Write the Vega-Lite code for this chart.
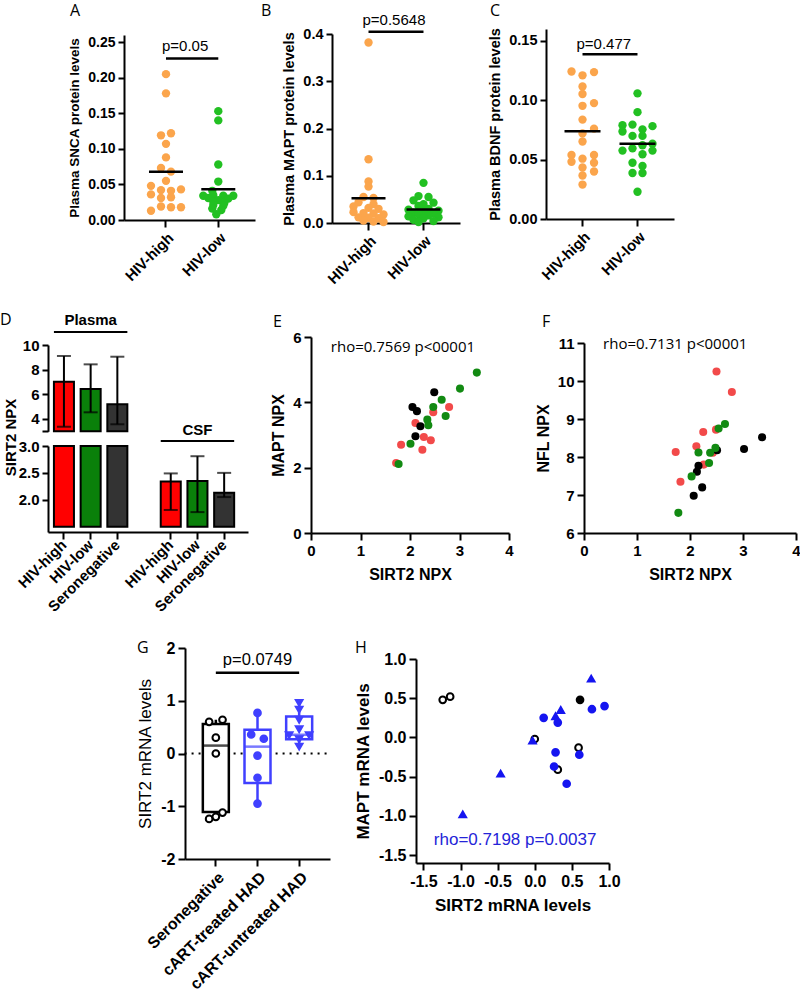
{
  "$schema": "https://vega.github.io/schema/vega-lite/v6.json",
  "background": "white",
  "padding": 0,
  "columns": 3,
  "spacing": 0,
  "bounds": "flush",
  "align": "each",
  "resolve": {"scale": {"color": "independent", "fill": "independent", "stroke": "independent", "shape": "independent", "xOffset": "independent"}},
  "config": {
    "view": {"stroke": null},
    "axis": {"grid": false, "domainColor": "#000", "domainWidth": 2, "tickColor": "#000", "tickWidth": 2, "tickSize": 6, "labelColor": "#000", "titleColor": "#000", "labelFont": "Liberation Sans", "titleFont": "Liberation Sans", "labelFontWeight": "bold", "titleFontWeight": "bold", "labelFlush": false, "labelOverlap": false, "labelPadding": 3, "titlePadding": 6},
    "title": {"font": "Open Sans", "fontWeight": "normal", "fontSize": 16, "anchor": "start", "frame": "group", "offset": 0, "color": "#000"},
    "text": {"font": "Liberation Sans", "color": "#000"}
  },
  "datasets": {
    "A": [
      {"g":"HIV-high","v":0.205,"o":0},{"g":"HIV-high","v":0.178,"o":0},{"g":"HIV-high","v":0.119,"o":-0.5},{"g":"HIV-high","v":0.122,"o":0.5},
      {"g":"HIV-high","v":0.107,"o":0},{"g":"HIV-high","v":0.088,"o":0},{"g":"HIV-high","v":0.073,"o":-0.5},{"g":"HIV-high","v":0.068,"o":0.5},
      {"g":"HIV-high","v":0.055,"o":0},{"g":"HIV-high","v":0.048,"o":-1.5},{"g":"HIV-high","v":0.036,"o":-1.5},{"g":"HIV-high","v":0.042,"o":-0.5},
      {"g":"HIV-high","v":0.041,"o":0.5},{"g":"HIV-high","v":0.043,"o":1.5},{"g":"HIV-high","v":0.031,"o":-0.5},{"g":"HIV-high","v":0.032,"o":0.5},
      {"g":"HIV-high","v":0.013,"o":-1.5},{"g":"HIV-high","v":0.019,"o":-0.5},{"g":"HIV-high","v":0.018,"o":0.5},{"g":"HIV-high","v":0.018,"o":1.5},
      {"g":"HIV-low","v":0.153,"o":0},{"g":"HIV-low","v":0.140,"o":0},{"g":"HIV-low","v":0.078,"o":0},{"g":"HIV-low","v":0.054,"o":0},
      {"g":"HIV-low","v":0.041,"o":-0.6},{"g":"HIV-low","v":0.034,"o":-1.5},{"g":"HIV-low","v":0.035,"o":-0.5},{"g":"HIV-low","v":0.034,"o":0.5},
      {"g":"HIV-low","v":0.034,"o":1.5},{"g":"HIV-low","v":0.031,"o":-1.0},{"g":"HIV-low","v":0.030,"o":1.0},{"g":"HIV-low","v":0.028,"o":0},
      {"g":"HIV-low","v":0.026,"o":-0.5},{"g":"HIV-low","v":0.024,"o":0.6},{"g":"HIV-low","v":0.021,"o":-0.5},{"g":"HIV-low","v":0.020,"o":0.5},
      {"g":"HIV-low","v":0.016,"o":-0.6},{"g":"HIV-low","v":0.014,"o":0.3},{"g":"HIV-low","v":0.008,"o":-0.2}
    ],
    "B": [
      {"g":"HIV-high","v":0.382,"o":0},{"g":"HIV-high","v":0.135,"o":0},{"g":"HIV-high","v":0.088,"o":0},{"g":"HIV-high","v":0.077,"o":0},
      {"g":"HIV-high","v":0.055,"o":-0.5},{"g":"HIV-high","v":0.053,"o":0.5},{"g":"HIV-high","v":0.044,"o":-1.0},{"g":"HIV-high","v":0.040,"o":0.5},
      {"g":"HIV-high","v":0.035,"o":-1.5},{"g":"HIV-high","v":0.032,"o":0},{"g":"HIV-high","v":0.030,"o":1.0},{"g":"HIV-high","v":0.023,"o":-1.5},
      {"g":"HIV-high","v":0.021,"o":-0.5},{"g":"HIV-high","v":0.020,"o":0.5},{"g":"HIV-high","v":0.018,"o":1.5},{"g":"HIV-high","v":0.012,"o":-1.0},
      {"g":"HIV-high","v":0.011,"o":0},{"g":"HIV-high","v":0.010,"o":1.0},{"g":"HIV-high","v":0.005,"o":-0.5},{"g":"HIV-high","v":0.003,"o":0.5},
      {"g":"HIV-high","v":0.002,"o":1.5},
      {"g":"HIV-low","v":0.085,"o":0},{"g":"HIV-low","v":0.057,"o":-0.5},{"g":"HIV-low","v":0.055,"o":0.5},{"g":"HIV-low","v":0.048,"o":-1.0},
      {"g":"HIV-low","v":0.043,"o":1.0},{"g":"HIV-low","v":0.040,"o":0},{"g":"HIV-low","v":0.036,"o":-0.5},{"g":"HIV-low","v":0.030,"o":0.5},
      {"g":"HIV-low","v":0.028,"o":-1.5},{"g":"HIV-low","v":0.026,"o":1.5},{"g":"HIV-low","v":0.024,"o":0},{"g":"HIV-low","v":0.022,"o":-1.0},
      {"g":"HIV-low","v":0.020,"o":1.0},{"g":"HIV-low","v":0.019,"o":-0.5},{"g":"HIV-low","v":0.016,"o":0.5},{"g":"HIV-low","v":0.014,"o":-1.5},
      {"g":"HIV-low","v":0.012,"o":1.5},{"g":"HIV-low","v":0.010,"o":0},{"g":"HIV-low","v":0.007,"o":-1.0},{"g":"HIV-low","v":0.004,"o":1.0},
      {"g":"HIV-low","v":0.002,"o":-0.5}
    ],
    "C": [
      {"g":"HIV-high","v":0.1242,"o":-1.1},{"g":"HIV-high","v":0.121,"o":0},{"g":"HIV-high","v":0.1237,"o":1.15},{"g":"HIV-high","v":0.1116,"o":0},
      {"g":"HIV-high","v":0.1053,"o":0},{"g":"HIV-high","v":0.0953,"o":0},{"g":"HIV-high","v":0.0976,"o":1.15},{"g":"HIV-high","v":0.0837,"o":0},
      {"g":"HIV-high","v":0.0761,"o":1.15},{"g":"HIV-high","v":0.0721,"o":0},{"g":"HIV-high","v":0.0653,"o":0},{"g":"HIV-high","v":0.0539,"o":-1.1},
      {"g":"HIV-high","v":0.0539,"o":1.15},{"g":"HIV-high","v":0.0482,"o":-1.1},{"g":"HIV-high","v":0.0508,"o":0},{"g":"HIV-high","v":0.0474,"o":1.15},
      {"g":"HIV-high","v":0.0434,"o":0},{"g":"HIV-high","v":0.040,"o":1.15},{"g":"HIV-high","v":0.0366,"o":0},{"g":"HIV-high","v":0.029,"o":0},
      {"g":"HIV-low","v":0.1058,"o":0},{"g":"HIV-low","v":0.090,"o":0},{"g":"HIV-low","v":0.0789,"o":-1.5},{"g":"HIV-low","v":0.0795,"o":-0.5},
      {"g":"HIV-low","v":0.0782,"o":1.5},{"g":"HIV-low","v":0.0737,"o":-1.5},{"g":"HIV-low","v":0.0755,"o":0.5},{"g":"HIV-low","v":0.070,"o":-0.5},
      {"g":"HIV-low","v":0.070,"o":0.5},{"g":"HIV-low","v":0.0634,"o":1.5},{"g":"HIV-low","v":0.0621,"o":0.5},{"g":"HIV-low","v":0.0576,"o":-1.5},
      {"g":"HIV-low","v":0.0595,"o":-0.5},{"g":"HIV-low","v":0.0576,"o":1.5},{"g":"HIV-low","v":0.0545,"o":0.5},{"g":"HIV-low","v":0.0474,"o":-0.5},
      {"g":"HIV-low","v":0.0447,"o":0.5},{"g":"HIV-low","v":0.0387,"o":-0.5},{"g":"HIV-low","v":0.0387,"o":0.5},{"g":"HIV-low","v":0.0229,"o":0}
    ],
    "D": [
      {"tissue":"Plasma","slot":"P:HIV-high","g":"HIV-high","v":7.02,"lo":3.37,"hi":9.11},
      {"tissue":"Plasma","slot":"P:HIV-low","g":"HIV-low","v":6.43,"lo":4.54,"hi":8.43},
      {"tissue":"Plasma","slot":"P:Seronegative","g":"Seronegative","v":5.19,"lo":3.57,"hi":9.05},
      {"tissue":"CSF","slot":"C:HIV-high","g":"HIV-high","v":2.34,"lo":1.81,"hi":2.49},
      {"tissue":"CSF","slot":"C:HIV-low","g":"HIV-low","v":2.35,"lo":1.77,"hi":2.81},
      {"tissue":"CSF","slot":"C:Seronegative","g":"Seronegative","v":2.13,"lo":2.05,"hi":2.50}
    ],
    "E": [
      {"g":"HIV-high","sirt2":1.72,"npx":2.14},{"g":"HIV-high","sirt2":1.82,"npx":2.70},{"g":"HIV-high","sirt2":2.11,"npx":3.37},{"g":"HIV-high","sirt2":2.28,"npx":2.94},
      {"g":"HIV-high","sirt2":2.25,"npx":2.55},{"g":"HIV-high","sirt2":2.42,"npx":2.84},{"g":"HIV-high","sirt2":2.47,"npx":3.70},{"g":"HIV-high","sirt2":2.79,"npx":3.86},
      {"g":"Seronegative","sirt2":2.05,"npx":3.86},{"g":"Seronegative","sirt2":2.14,"npx":3.73},{"g":"Seronegative","sirt2":2.49,"npx":4.31},{"g":"Seronegative","sirt2":2.21,"npx":3.27},
      {"g":"Seronegative","sirt2":2.11,"npx":2.96},
      {"g":"HIV-low","sirt2":1.77,"npx":2.11},{"g":"HIV-low","sirt2":2.01,"npx":2.73},{"g":"HIV-low","sirt2":2.35,"npx":3.47},{"g":"HIV-low","sirt2":2.37,"npx":3.30},
      {"g":"HIV-low","sirt2":2.47,"npx":3.86},{"g":"HIV-low","sirt2":2.72,"npx":3.58},{"g":"HIV-low","sirt2":2.64,"npx":4.08},{"g":"HIV-low","sirt2":3.01,"npx":4.42},
      {"g":"HIV-low","sirt2":3.35,"npx":4.91}
    ],
    "F": [
      {"g":"HIV-high","sirt2":1.73,"npx":8.13},{"g":"HIV-high","sirt2":1.82,"npx":7.35},{"g":"HIV-high","sirt2":2.12,"npx":8.28},{"g":"HIV-high","sirt2":2.25,"npx":8.66},
      {"g":"HIV-high","sirt2":2.50,"npx":10.25},{"g":"HIV-high","sirt2":2.79,"npx":9.71},{"g":"HIV-high","sirt2":2.49,"npx":8.72},{"g":"HIV-high","sirt2":2.26,"npx":7.80},
      {"g":"HIV-high","sirt2":2.43,"npx":8.11},
      {"g":"Seronegative","sirt2":2.07,"npx":6.98},{"g":"Seronegative","sirt2":2.23,"npx":7.20},{"g":"Seronegative","sirt2":2.13,"npx":7.61},{"g":"Seronegative","sirt2":2.16,"npx":7.77},
      {"g":"Seronegative","sirt2":2.51,"npx":8.18},{"g":"Seronegative","sirt2":3.02,"npx":8.21},{"g":"Seronegative","sirt2":3.36,"npx":8.52},
      {"g":"HIV-low","sirt2":1.78,"npx":6.53},{"g":"HIV-low","sirt2":2.03,"npx":7.49},{"g":"HIV-low","sirt2":2.16,"npx":8.12},{"g":"HIV-low","sirt2":2.36,"npx":7.84},
      {"g":"HIV-low","sirt2":2.38,"npx":8.11},{"g":"HIV-low","sirt2":2.48,"npx":8.24},{"g":"HIV-low","sirt2":2.54,"npx":8.75},{"g":"HIV-low","sirt2":2.66,"npx":8.87}
    ],
    "Gbox": [
      {"g":"Seronegative","lo":-1.24,"q1":-1.11,"med":0.15,"q3":0.56,"hi":0.64},
      {"g":"cART-treated HAD","lo":-0.96,"q1":-0.56,"med":0.13,"q3":0.45,"hi":0.77},
      {"g":"cART-untreated HAD","lo":0.11,"q1":0.27,"med":0.355,"q3":0.70,"hi":0.975}
    ],
    "Gpts": [
      {"g":"Seronegative","v":0.60,"o":-0.67},{"g":"Seronegative","v":0.64,"o":0.67},{"g":"Seronegative","v":0.30,"o":0},{"g":"Seronegative","v":0.00,"o":0},
      {"g":"Seronegative","v":-1.24,"o":-0.67},{"g":"Seronegative","v":-1.20,"o":0},{"g":"Seronegative","v":-1.12,"o":0.67},
      {"g":"cART-treated HAD","v":0.77,"o":0},{"g":"cART-treated HAD","v":0.36,"o":-0.63},{"g":"cART-treated HAD","v":0.28,"o":0.63},
      {"g":"cART-treated HAD","v":-0.04,"o":0},{"g":"cART-treated HAD","v":-0.46,"o":0},{"g":"cART-treated HAD","v":-0.95,"o":0},
      {"g":"cART-untreated HAD","v":0.96,"o":0},{"g":"cART-untreated HAD","v":0.83,"o":0},{"g":"cART-untreated HAD","v":0.64,"o":0},
      {"g":"cART-untreated HAD","v":0.46,"o":0},{"g":"cART-untreated HAD","v":0.35,"o":-1},{"g":"cART-untreated HAD","v":0.35,"o":1},
      {"g":"cART-untreated HAD","v":0.27,"o":0},{"g":"cART-untreated HAD","v":0.13,"o":0}
    ],
    "H": [
      {"t":"Seronegative","sirt2":-1.24,"mapt":0.48},{"t":"Seronegative","sirt2":-1.14,"mapt":0.52},{"t":"Seronegative","sirt2":0.00,"mapt":-0.02},
      {"t":"Seronegative","sirt2":0.31,"mapt":-0.41},{"t":"Seronegative","sirt2":0.59,"mapt":-0.13},
      {"t":"Seronegative (filled)","sirt2":0.61,"mapt":0.48},
      {"t":"cART-treated HAD","sirt2":0.12,"mapt":0.25},{"t":"cART-treated HAD","sirt2":0.31,"mapt":0.19},{"t":"cART-treated HAD","sirt2":0.28,"mapt":-0.19},
      {"t":"cART-treated HAD","sirt2":0.26,"mapt":-0.37},{"t":"cART-treated HAD","sirt2":0.43,"mapt":-0.59},{"t":"cART-treated HAD","sirt2":0.60,"mapt":-0.22},
      {"t":"cART-treated HAD","sirt2":0.77,"mapt":0.36},{"t":"cART-treated HAD","sirt2":0.94,"mapt":0.40},
      {"t":"cART-untreated HAD","sirt2":-0.97,"mapt":-0.98},{"t":"cART-untreated HAD","sirt2":-0.46,"mapt":-0.46},{"t":"cART-untreated HAD","sirt2":-0.03,"mapt":-0.04},
      {"t":"cART-untreated HAD","sirt2":0.28,"mapt":0.27},{"t":"cART-untreated HAD","sirt2":0.35,"mapt":0.35},{"t":"cART-untreated HAD","sirt2":0.76,"mapt":0.75}
    ]
  },
  "concat": [
    {
      "width": 260, "height": 310,
      "title": {"text": "A", "dx": 70, "dy": 23},
      "layer": [
        {"data": {"name": "A"}, "mark": {"type": "circle", "size": 70, "opacity": 1},
         "encoding": {
           "x": {"field": "g", "type": "nominal", "scale": {"domain": ["HIV-high", "HIV-low"], "range": [124, 255], "paddingInner": 0, "paddingOuter": 0.2524, "align": 0.6},
                 "axis": {"orient": "bottom", "offset": -90, "title": null, "labelAngle": -45, "labelFontSize": 15, "tickSize": 7}},
           "xOffset": {"field": "o", "type": "quantitative", "scale": {"domain": [-3, 3], "range": [-3.85, 56.15]}},
           "y": {"field": "v", "type": "quantitative", "scale": {"domain": [0, 0.25], "range": [220, 35]},
                 "axis": {"orient": "left", "offset": -124, "values": [0, 0.05, 0.1, 0.15, 0.2, 0.25], "format": ".2f", "labelFontSize": 14, "title": "Plasma SNCA protein levels", "titleFontSize": 13.5}},
           "color": {"field": "g", "type": "nominal", "scale": {"domain": ["HIV-high", "HIV-low"], "range": ["#FBA54C", "#22C022"]}, "legend": null}
         }},
        {"data": {"name": "A"}, "mark": {"type": "tick", "orient": "horizontal", "size": 34, "thickness": 2.5, "color": "#000"},
         "encoding": {"x": {"field": "g", "type": "nominal"}, "y": {"aggregate": "mean", "field": "v", "type": "quantitative"}}},
        {"data": {"values": [{"from": "HIV-high", "to": "HIV-low", "p": "p=0.05"}]}, "mark": {"type": "rule", "strokeWidth": 2.5, "color": "#000"},
         "encoding": {"x": {"field": "from", "type": "nominal"}, "x2": {"field": "to"}, "y": {"datum": 0.227}}},
        {"data": {"values": [{"from": "HIV-high", "to": "HIV-low", "p": "p=0.05"}]}, "mark": {"type": "text", "align": "left", "baseline": "middle", "dx": -4, "fontSize": 15},
         "encoding": {"x": {"field": "from", "type": "nominal"}, "y": {"datum": 0.244}, "text": {"field": "p"}}}
      ]
    },
    {
      "width": 260, "height": 310,
      "title": {"text": "B", "dx": 1, "dy": 23},
      "layer": [
        {"data": {"name": "B"}, "mark": {"type": "circle", "size": 70, "opacity": 1},
         "encoding": {
           "x": {"field": "g", "type": "nominal", "scale": {"domain": ["HIV-high", "HIV-low"], "range": [72, 200], "paddingInner": 0, "paddingOuter": 0.164},
                 "axis": {"orient": "bottom", "offset": -87, "title": null, "labelAngle": -45, "labelFontSize": 15, "tickSize": 7}},
           "xOffset": {"field": "o", "type": "quantitative", "scale": {"domain": [-3, 3], "range": [-2.5, 57.5]}},
           "y": {"field": "v", "type": "quantitative", "scale": {"domain": [0, 0.4], "range": [223, 34]},
                 "axis": {"orient": "left", "offset": -72, "values": [0, 0.1, 0.2, 0.3, 0.4], "format": ".1f", "labelFontSize": 14.5, "title": "Plasma MAPT protein levels", "titleFontSize": 14.5}},
           "color": {"field": "g", "type": "nominal", "scale": {"domain": ["HIV-high", "HIV-low"], "range": ["#FBA54C", "#22C022"]}, "legend": null}
         }},
        {"data": {"name": "B"}, "mark": {"type": "tick", "orient": "horizontal", "size": 34, "thickness": 2.5, "color": "#000"},
         "encoding": {"x": {"field": "g", "type": "nominal"}, "y": {"aggregate": "mean", "field": "v", "type": "quantitative"}}},
        {"data": {"values": [{"from": "HIV-high", "to": "HIV-low", "p": "p=0.5648"}]}, "mark": {"type": "rule", "strokeWidth": 2.5, "color": "#000"},
         "encoding": {"x": {"field": "from", "type": "nominal"}, "x2": {"field": "to"}, "y": {"datum": 0.405}}},
        {"data": {"values": [{"from": "HIV-high", "to": "HIV-low", "p": "p=0.5648"}]}, "mark": {"type": "text", "align": "left", "baseline": "middle", "dx": -6, "fontSize": 15},
         "encoding": {"x": {"field": "from", "type": "nominal"}, "y": {"datum": 0.43}, "text": {"field": "p"}}}
      ]
    },
    {
      "width": 280, "height": 310,
      "title": {"text": "C", "dx": -30, "dy": 23},
      "layer": [
        {"data": {"name": "C"}, "mark": {"type": "circle", "size": 70, "opacity": 1},
         "encoding": {
           "x": {"field": "g", "type": "nominal", "scale": {"domain": ["HIV-high", "HIV-low"], "range": [26, 154], "paddingInner": 0, "paddingOuter": 0.164},
                 "axis": {"orient": "bottom", "offset": -91, "title": null, "labelAngle": -45, "labelFontSize": 15, "tickSize": 7}},
           "xOffset": {"field": "o", "type": "quantitative", "scale": {"domain": [-3, 3], "range": [-2.5, 57.5]}},
           "y": {"field": "v", "type": "quantitative", "scale": {"domain": [0, 0.15], "range": [219, 29]},
                 "axis": {"orient": "left", "offset": -26, "values": [0, 0.05, 0.1, 0.15], "format": ".2f", "labelFontSize": 14.5, "title": "Plasma BDNF protein levels", "titleFontSize": 14.5}},
           "color": {"field": "g", "type": "nominal", "scale": {"domain": ["HIV-high", "HIV-low"], "range": ["#FBA54C", "#22C022"]}, "legend": null}
         }},
        {"data": {"name": "C"}, "mark": {"type": "tick", "orient": "horizontal", "size": 36, "thickness": 2.5, "color": "#000"},
         "encoding": {"x": {"field": "g", "type": "nominal"}, "y": {"aggregate": "mean", "field": "v", "type": "quantitative"}}},
        {"data": {"values": [{"from": "HIV-high", "to": "HIV-low", "p": "p=0.477"}]}, "mark": {"type": "rule", "strokeWidth": 2.5, "color": "#000"},
         "encoding": {"x": {"field": "from", "type": "nominal"}, "x2": {"field": "to"}, "y": {"datum": 0.1387}}},
        {"data": {"values": [{"from": "HIV-high", "to": "HIV-low", "p": "p=0.477"}]}, "mark": {"type": "text", "align": "left", "baseline": "middle", "dx": -6, "fontSize": 15},
         "encoding": {"x": {"field": "from", "type": "nominal"}, "y": {"datum": 0.1474}, "text": {"field": "p"}}}
      ]
    },
    {
      "width": 260, "height": 330,
      "title": {"text": "D", "dx": 0, "dy": 22},
      "resolve": {"scale": {"y": "independent"}, "axis": {"y": "independent"}},
      "layer": [
        {
          "layer": [
            {"data": {"name": "D"}, "transform": [{"filter": "datum.tissue === 'Plasma'"}],
             "mark": {"type": "bar", "stroke": "#000", "strokeWidth": 2},
             "encoding": {
               "x": {"field": "slot", "type": "nominal", "scale": {"domain": ["P:HIV-high", "P:HIV-low", "P:Seronegative", "gap", "C:HIV-high", "C:HIV-low", "C:Seronegative"], "range": [48, 248], "paddingInner": 0.25, "paddingOuter": 0.37, "align": 0.3}},
               "y": {"field": "v", "type": "quantitative", "scale": {"domain": [3, 10], "range": [121.3, 35]},
                     "axis": {"orient": "left", "offset": -48, "values": [3, 4, 6, 8, 10], "format": "d", "labelExpr": "datum.value == 3 ? '' : datum.label", "labelFontSize": 15, "title": "SIRT2 NPX", "titleFontSize": 15, "titleX": -38, "titleY": 127, "titleAngle": -90, "titleBaseline": "middle", "titleAlign": "center"}},
               "y2": {"datum": 3},
               "color": {"field": "g", "type": "nominal", "scale": {"domain": ["HIV-high", "HIV-low", "Seronegative"], "range": ["#FF0000", "#0A800A", "#333333"]}, "legend": null}
             }},
            {"data": {"name": "D"}, "transform": [{"filter": "datum.tissue === 'Plasma'"}],
             "mark": {"type": "rule", "strokeWidth": 2, "color": "#000"},
             "encoding": {"x": {"field": "slot", "type": "nominal"}, "y": {"field": "lo", "type": "quantitative"}, "y2": {"field": "hi"}}},
            {"data": {"name": "D"}, "transform": [{"filter": "datum.tissue === 'Plasma'"}],
             "mark": {"type": "tick", "orient": "horizontal", "size": 14, "thickness": 2, "color": "#000"},
             "encoding": {"x": {"field": "slot", "type": "nominal"}, "y": {"field": "lo", "type": "quantitative"}}},
            {"data": {"name": "D"}, "transform": [{"filter": "datum.tissue === 'Plasma'"}],
             "mark": {"type": "tick", "orient": "horizontal", "size": 14, "thickness": 2, "color": "#000"},
             "encoding": {"x": {"field": "slot", "type": "nominal"}, "y": {"field": "hi", "type": "quantitative"}}},
            {"data": {"values": [{"a": "P:HIV-high", "b": "P:Seronegative", "m": "P:HIV-low", "t": "Plasma"}]},
             "mark": {"type": "rule", "strokeWidth": 2, "color": "#000"},
             "encoding": {"x": {"field": "a", "type": "nominal", "bandPosition": 0}, "x2": {"field": "b", "bandPosition": 1}, "y": {"datum": 11.05}}},
            {"data": {"values": [{"a": "P:HIV-high", "b": "P:Seronegative", "m": "P:HIV-low", "t": "Plasma"}]},
             "mark": {"type": "text", "baseline": "middle", "fontSize": 15, "fontWeight": "bold"},
             "encoding": {"x": {"field": "m", "type": "nominal"}, "y": {"datum": 12.0}, "text": {"field": "t"}}},
            {"data": {"values": [{"a": "C:HIV-high", "b": "C:Seronegative", "m": "C:HIV-low", "t": "CSF"}]},
             "mark": {"type": "rule", "strokeWidth": 2, "color": "#000"},
             "encoding": {"x": {"field": "a", "type": "nominal", "bandPosition": 0}, "x2": {"field": "b", "bandPosition": 1}, "y": {"datum": 2.21}}},
            {"data": {"values": [{"a": "C:HIV-high", "b": "C:Seronegative", "m": "C:HIV-low", "t": "CSF"}]},
             "mark": {"type": "text", "baseline": "middle", "fontSize": 15, "fontWeight": "bold"},
             "encoding": {"x": {"field": "m", "type": "nominal"}, "y": {"datum": 3.11}, "text": {"field": "t"}}}
          ]
        },
        {
          "layer": [
            {"data": {"name": "D"},
             "mark": {"type": "bar", "stroke": "#000", "strokeWidth": 2},
             "encoding": {
               "x": {"field": "slot", "type": "nominal",
                     "axis": {"orient": "bottom", "offset": -108, "title": null, "labelAngle": -45, "labelFontSize": 15, "tickSize": 7,
                              "labelExpr": "datum.value === 'gap' ? '' : split(datum.value, ':')[1]",
                              "tickOpacity": {"condition": {"test": "datum.value === 'gap'", "value": 0}, "value": 1}}},
               "y": {"field": "v", "type": "quantitative", "scale": {"domain": [1.5, 3], "range": [222, 136], "clamp": true},
                     "axis": {"orient": "left", "offset": -48, "values": [2, 2.5, 3], "format": ".1f", "labelFontSize": 15, "title": null}},
               "y2": {"datum": 1.5},
               "color": {"field": "g", "type": "nominal", "legend": null}
             }},
            {"data": {"name": "D"}, "transform": [{"filter": "datum.tissue === 'CSF'"}],
             "mark": {"type": "rule", "strokeWidth": 2, "color": "#000"},
             "encoding": {"x": {"field": "slot", "type": "nominal"}, "y": {"field": "lo", "type": "quantitative"}, "y2": {"field": "hi"}}},
            {"data": {"name": "D"}, "transform": [{"filter": "datum.tissue === 'CSF'"}],
             "mark": {"type": "tick", "orient": "horizontal", "size": 14, "thickness": 2, "color": "#000"},
             "encoding": {"x": {"field": "slot", "type": "nominal"}, "y": {"field": "lo", "type": "quantitative"}}},
            {"data": {"name": "D"}, "transform": [{"filter": "datum.tissue === 'CSF'"}],
             "mark": {"type": "tick", "orient": "horizontal", "size": 14, "thickness": 2, "color": "#000"},
             "encoding": {"x": {"field": "slot", "type": "nominal"}, "y": {"field": "hi", "type": "quantitative"}}}
          ]
        }
      ]
    },
    {
      "width": 260, "height": 330,
      "title": {"text": "E", "dx": 13, "dy": 24},
      "layer": [
        {"data": {"name": "E"}, "mark": {"type": "circle", "size": 65, "opacity": 1},
         "encoding": {
           "x": {"field": "sirt2", "type": "quantitative", "scale": {"domain": [0, 4], "range": [51, 249]},
                 "axis": {"orient": "bottom", "offset": -107, "values": [0, 1, 2, 3, 4], "format": "d", "title": "SIRT2 NPX", "titleFontSize": 16, "labelFontSize": 15, "tickSize": 7, "titlePadding": 8}},
           "y": {"field": "npx", "type": "quantitative", "scale": {"domain": [0, 6], "range": [223, 27]},
                 "axis": {"orient": "left", "offset": -51, "values": [0, 2, 4, 6], "format": "d", "title": "MAPT NPX", "titleFontSize": 16, "labelFontSize": 15, "tickSize": 7}},
           "color": {"field": "g", "type": "nominal", "scale": {"domain": ["HIV-high", "HIV-low", "Seronegative"], "range": ["#F24A4A", "#128A12", "#000000"]}, "legend": null}
         }},
        {"data": {"values": [{"t": "rho=0.7569 p<00001"}]}, "mark": {"type": "text", "align": "left", "baseline": "middle", "font": "Open Sans", "fontSize": 15},
         "encoding": {"x": {"datum": 0.4}, "y": {"datum": 5.69}, "text": {"field": "t"}}}
      ]
    },
    {
      "width": 280, "height": 330,
      "title": {"text": "F", "dx": 22, "dy": 24},
      "layer": [
        {"data": {"name": "F"}, "mark": {"type": "circle", "size": 65, "opacity": 1},
         "encoding": {
           "x": {"field": "sirt2", "type": "quantitative", "scale": {"domain": [0, 4], "range": [64, 276]},
                 "axis": {"orient": "bottom", "offset": -107, "values": [0, 1, 2, 3, 4], "format": "d", "title": "SIRT2 NPX", "titleFontSize": 16, "labelFontSize": 15, "tickSize": 7, "titlePadding": 8}},
           "y": {"field": "npx", "type": "quantitative", "scale": {"domain": [6, 11], "range": [223, 33]},
                 "axis": {"orient": "left", "offset": -64, "values": [6, 7, 8, 9, 10, 11], "format": "d", "title": "NFL NPX", "titleFontSize": 16, "labelFontSize": 15, "tickSize": 7}},
           "color": {"field": "g", "type": "nominal", "scale": {"domain": ["HIV-high", "HIV-low", "Seronegative"], "range": ["#F24A4A", "#128A12", "#000000"]}, "legend": null}
         }},
        {"data": {"values": [{"t": "rho=0.7131 p<00001"}]}, "mark": {"type": "text", "align": "left", "baseline": "middle", "font": "Open Sans", "fontSize": 15},
         "encoding": {"x": {"datum": 0.36}, "y": {"datum": 10.97}, "text": {"field": "t"}}}
      ]
    },
    {
      "width": 260, "height": 352,
      "title": {"text": "G", "dx": 137, "dy": 20},
      "layer": [
        {"data": {"values": [{"line": "zero"}]}, "mark": {"type": "rule", "strokeWidth": 2, "strokeDash": [2, 5], "color": "#000"},
         "encoding": {
           "x": {"datum": "Seronegative", "type": "nominal", "bandPosition": -0.25,
                 "scale": {"domain": ["Seronegative", "cART-treated HAD", "cART-untreated HAD"], "range": [185, 330], "paddingInner": 0, "paddingOuter": 0.24},
                 "axis": {"orient": "bottom", "offset": -133, "title": null, "labelAngle": -45, "labelFontSize": 16, "tickSize": 7}},
           "x2": {"datum": "cART-untreated HAD", "bandPosition": 1.25},
           "y": {"datum": 0, "type": "quantitative", "scale": {"domain": [-2, 2], "range": [219, 8]},
                 "axis": {"orient": "left", "offset": -185, "values": [-2, -1, 0, 1, 2], "format": "d", "labelExpr": "replace(datum.label, '−', '-')", "labelFontSize": 16, "tickSize": 7, "title": "SIRT2 mRNA levels", "titleFontSize": 17, "titleFontWeight": "normal"}}
         }},
        {"data": {"name": "Gbox"}, "mark": {"type": "rule", "strokeWidth": 2.5},
         "encoding": {"x": {"field": "g", "type": "nominal"}, "y": {"field": "hi", "type": "quantitative"}, "y2": {"field": "q3"},
                      "color": {"field": "g", "type": "nominal", "scale": {"domain": ["Seronegative", "cART-treated HAD", "cART-untreated HAD"], "range": ["#000000", "#4040FF", "#4040FF"]}, "legend": null}}},
        {"data": {"name": "Gbox"}, "mark": {"type": "rule", "strokeWidth": 2.5},
         "encoding": {"x": {"field": "g", "type": "nominal"}, "y": {"field": "q1", "type": "quantitative"}, "y2": {"field": "lo"},
                      "color": {"field": "g", "type": "nominal", "legend": null}}},
        {"data": {"name": "Gbox"}, "mark": {"type": "bar", "width": 26, "fill": "#ffffff", "strokeWidth": 2.5},
         "encoding": {"x": {"field": "g", "type": "nominal"}, "y": {"field": "q1", "type": "quantitative"}, "y2": {"field": "q3"},
                      "stroke": {"field": "g", "type": "nominal", "scale": {"domain": ["Seronegative", "cART-treated HAD", "cART-untreated HAD"], "range": ["#000000", "#4040FF", "#4040FF"]}, "legend": null}}},
        {"data": {"name": "Gbox"}, "mark": {"type": "tick", "orient": "horizontal", "size": 26, "thickness": 2.5},
         "encoding": {"x": {"field": "g", "type": "nominal"}, "y": {"field": "med", "type": "quantitative"},
                      "color": {"field": "g", "type": "nominal", "legend": null}}},
        {"data": {"name": "Gpts"}, "mark": {"type": "point", "filled": true, "size": 45, "strokeWidth": 2, "opacity": 1},
         "encoding": {
           "x": {"field": "g", "type": "nominal"},
           "xOffset": {"field": "o", "type": "quantitative", "scale": {"domain": [-3, 3], "range": [-9.17, 50.83]}},
           "y": {"field": "v", "type": "quantitative"},
           "shape": {"field": "g", "type": "nominal", "scale": {"domain": ["Seronegative", "cART-treated HAD", "cART-untreated HAD"], "range": ["circle", "circle", "triangle-down"]}, "legend": null},
           "fill": {"field": "g", "type": "nominal", "scale": {"domain": ["Seronegative", "cART-treated HAD", "cART-untreated HAD"], "range": ["#ffffff", "#4040FF", "#4040FF"]}, "legend": null},
           "stroke": {"field": "g", "type": "nominal", "legend": null}
         }},
        {"data": {"values": [{"from": "Seronegative", "to": "cART-untreated HAD", "mid": "cART-treated HAD", "p": "p=0.0749"}]},
         "mark": {"type": "rule", "strokeWidth": 2.5, "color": "#000"},
         "encoding": {"x": {"field": "from", "type": "nominal"}, "x2": {"field": "to"}, "y": {"datum": 1.53}}},
        {"data": {"values": [{"from": "Seronegative", "to": "cART-untreated HAD", "mid": "cART-treated HAD", "p": "p=0.0749"}]},
         "mark": {"type": "text", "baseline": "middle", "fontSize": 16.5},
         "encoding": {"x": {"field": "mid", "type": "nominal"}, "y": {"datum": 1.78}, "text": {"field": "p"}}}
      ]
    },
    {
      "width": 260, "height": 352,
      "title": {"text": "H", "dx": 95, "dy": 20},
      "layer": [
        {"data": {"name": "H"}, "mark": {"type": "point", "filled": true, "size": 45, "strokeWidth": 2, "opacity": 1},
         "encoding": {
           "x": {"field": "sirt2", "type": "quantitative", "scale": {"domain": [-1.5, 1], "range": [156, 349]},
                 "axis": {"orient": "bottom", "offset": -129, "values": [-1.5, -1, -0.5, 0, 0.5, 1], "format": ".1f", "labelExpr": "replace(datum.label, '−', '-')", "title": "SIRT2 mRNA levels", "titleFontSize": 17, "labelFontSize": 16, "tickSize": 7, "titlePadding": 8}},
           "y": {"field": "mapt", "type": "quantitative", "scale": {"domain": [-1.5, 1], "range": [223, 19]},
                 "axis": {"orient": "left", "offset": -156, "values": [-1.5, -1, -0.5, 0, 0.5, 1], "format": ".1f", "labelExpr": "replace(datum.label, '−', '-')", "title": "MAPT mRNA levels", "titleFontSize": 17, "labelFontSize": 16, "tickSize": 7}},
           "shape": {"field": "t", "type": "nominal", "scale": {"domain": ["Seronegative", "Seronegative (filled)", "cART-treated HAD", "cART-untreated HAD"], "range": ["circle", "circle", "circle", "triangle-up"]}, "legend": null},
           "fill": {"field": "t", "type": "nominal", "scale": {"domain": ["Seronegative", "Seronegative (filled)", "cART-treated HAD", "cART-untreated HAD"], "range": ["#ffffff", "#000000", "#1515F0", "#1515F0"]}, "legend": null},
           "stroke": {"field": "t", "type": "nominal", "scale": {"domain": ["Seronegative", "Seronegative (filled)", "cART-treated HAD", "cART-untreated HAD"], "range": ["#000000", "#000000", "#1515F0", "#1515F0"]}, "legend": null}
         }},
        {"data": {"values": [{"t": "rho=0.7198 p=0.0037"}]}, "mark": {"type": "text", "align": "left", "baseline": "middle", "fontSize": 17, "color": "#2424D8"},
         "encoding": {"x": {"datum": -1.36}, "y": {"datum": -1.31}, "text": {"field": "t"}}}
      ]
    }
  ]
}
